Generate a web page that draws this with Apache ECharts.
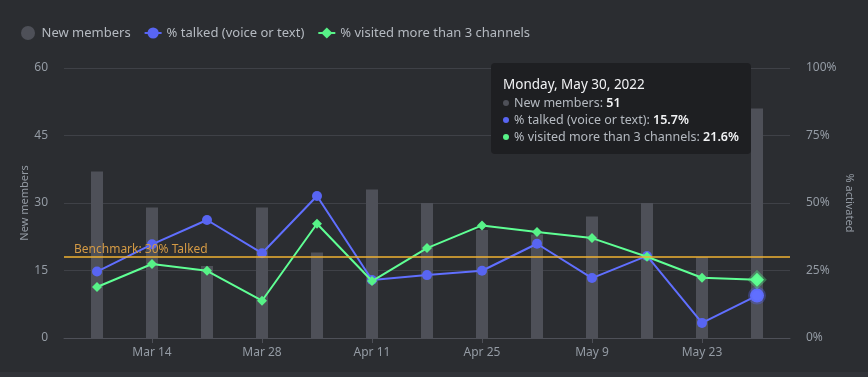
<!DOCTYPE html>
<html>
<head>
<meta charset="utf-8">
<script src="https://cdn.jsdelivr.net/npm/echarts@6/dist/echarts.min.js"></script>
<style>
  html, body { margin: 0; padding: 0; background: #313338; }
  #chart { width: 868px; height: 372px; background: #2b2d31; }
</style>
</head>
<body>
<div id="chart"></div>
<script>
// weekly data points (Mondays)
var weeks = ['2022-03-07','2022-03-14','2022-03-21','2022-03-28','2022-04-04','2022-04-11','2022-04-18',
             '2022-04-25','2022-05-02','2022-05-09','2022-05-16','2022-05-23','2022-05-30'];
var newMembers = [37, 29, 16, 29, 19, 33, 30, 24, 23, 27, 30, 18, 51];
var talked = [24.6, 34.7, 43.7, 31.4, 52.6, 21.5, 23.3, 24.9, 34.9, 22.2, 30.4, 5.6, 15.7];
var visited = [18.9, 27.4, 24.9, 13.8, 42.3, 21.1, 33.3, 41.7, 39.3, 37.0, 30.1, 22.3, 21.6];
var tickDates = ['2022-03-14','2022-03-28','2022-04-11','2022-04-25','2022-05-09','2022-05-23'];
var benchmark = 30;

var months = ['Jan','Feb','Mar','Apr','May','Jun','Jul','Aug','Sep','Oct','Nov','Dec'];
var monthsLong = ['January','February','March','April','May','June','July','August','September','October','November','December'];
var dayNames = ['Sunday','Monday','Tuesday','Wednesday','Thursday','Friday','Saturday'];

function toDate(s) { var p = s.split('-'); return new Date(Date.UTC(+p[0], +p[1] - 1, +p[2])); }
var t0 = toDate(weeks[0]).getTime();
function dayOf(s) { return Math.round((toDate(s).getTime() - t0) / 86400000); }
function dateOfDay(d) { return new Date(t0 + d * 86400000); }

var barData = [], talkData = [], visitData = [];
for (var i = 0; i < weeks.length; i++) {
  var d = dayOf(weeks[i]);
  barData.push([d, newMembers[i]]);
  talkData.push([d, talked[i]]);
  visitData.push([d, visited[i]]);
}
var tickDays = tickDates.map(dayOf);

var chart = echarts.init(document.getElementById('chart'));
var font = '"Noto Sans", sans-serif';
var cssFont = "'Noto Sans', sans-serif";
var blue = '#5865f2', green = '#57f287';

var option = {
  animation: false,
  backgroundColor: '#2b2d31',
  textStyle: { fontFamily: font },
  legend: {
    left: 16, top: 21,
    itemWidth: 17, itemHeight: 14, itemGap: 13,
    textStyle: { color: '#b5bac1', fontSize: 13, fontFamily: font },
    data: [
      { name: 'New members', icon: 'circle' },
      { name: '% talked (voice or text)' },
      { name: '% visited more than 3 channels' }
    ]
  },
  grid: { left: 64, right: 78, top: 68, bottom: 34 },
  tooltip: {
    trigger: 'axis',
    axisPointer: { type: 'none', snap: true },
    position: [491, 63],
    backgroundColor: '#1e1f22',
    borderWidth: 0,
    padding: [11, 12, 9, 12],
    transitionDuration: 0,
    extraCssText: 'box-shadow:none;border-radius:4px;',
    formatter: function (params) {
      var idx = params[0].dataIndex;
      var dt = toDate(weeks[idx]);
      var title = dayNames[dt.getUTCDay()] + ', ' + monthsLong[dt.getUTCMonth()] + ' ' + dt.getUTCDate() + ', ' + dt.getUTCFullYear();
      var rows = [
        ['#4e5058', 'New members', newMembers[idx]],
        [blue, '% talked (voice or text)', talked[idx].toFixed(1) + '%'],
        [green, '% visited more than 3 channels', visited[idx].toFixed(1) + '%']
      ];
      var html = '<div style="font-family:' + cssFont + ';font-size:13.5px;line-height:20px;color:#f2f3f5">' + title + '</div>';
      rows.forEach(function (r) {
        html += '<div style="font-family:' + cssFont + ';font-size:12.5px;line-height:17px;color:#b5bac1">' +
          '<span style="display:inline-block;width:6px;height:6px;border-radius:3px;background:' + r[0] + ';margin-right:5px;vertical-align:middle;position:relative;top:-1px"></span>' +
          r[1] + ': <b style="color:#f2f3f5;font-weight:600">' + r[2] + '</b></div>';
      });
      return html;
    }
  },
  xAxis: {
    type: 'value',
    min: -4.2,
    max: 88.2,
    axisLine: { show: true, lineStyle: { color: '#4e5058' } },
    axisTick: { show: true, length: 5, lineStyle: { color: '#4e5058' }, customValues: tickDays },
    axisLabel: {
      color: '#949ba4', fontSize: 12, margin: 9, fontFamily: font,
      customValues: tickDays,
      formatter: function (v) { var dt = dateOfDay(v); return months[dt.getUTCMonth()] + ' ' + dt.getUTCDate(); }
    },
    splitLine: { show: false }
  },
  yAxis: [
    {
      type: 'value', min: 0, max: 60, interval: 15,
      name: 'New members', nameLocation: 'middle', nameGap: 34, nameRotate: 90,
      nameMoveOverlap: false,
      nameTextStyle: { color: '#949ba4', fontSize: 11, fontFamily: font },
      axisLine: { show: false }, axisTick: { show: false },
      axisLabel: { color: '#949ba4', fontSize: 12, margin: 16, fontFamily: font },
      splitLine: { lineStyle: { color: '#3f4147' } }
    },
    {
      type: 'value', min: 0, max: 100, interval: 25,
      name: '% activated', nameLocation: 'middle', nameGap: 54, nameRotate: -90,
      nameMoveOverlap: false,
      nameTextStyle: { color: '#949ba4', fontSize: 11, fontFamily: font },
      axisLine: { show: false }, axisTick: { show: false },
      axisLabel: { color: '#949ba4', fontSize: 12, margin: 16, fontFamily: font, formatter: '{value}%' },
      splitLine: { show: false }
    }
  ],
  series: [
    {
      name: 'New members',
      type: 'bar',
      yAxisIndex: 0,
      barWidth: 12,
      itemStyle: { color: '#4e5058' },
      emphasis: { disabled: true },
      data: barData
    },
    {
      name: '% talked (voice or text)',
      type: 'line',
      yAxisIndex: 1,
      symbol: 'circle',
      symbolSize: 10,
      lineStyle: { color: blue, width: 2 },
      itemStyle: { color: blue },
      emphasis: { scale: 1.4, itemStyle: { borderWidth: 4, borderColor: 'rgba(88,101,242,0.35)' } },
      z: 3,
      data: talkData,
      markLine: {
        silent: true,
        symbol: 'none',
        lineStyle: { color: '#f0b232', type: 'solid', width: 1.5 },
        label: {
          position: 'insideStartTop',
          formatter: 'Benchmark: 30% Talked',
          color: '#d49a45', fontSize: 12, fontFamily: font,
          offset: [5, 4]
        },
        data: [{ yAxis: benchmark }]
      }
    },
    {
      name: '% visited more than 3 channels',
      type: 'line',
      yAxisIndex: 1,
      symbol: 'diamond',
      symbolSize: 10,
      lineStyle: { color: green, width: 2 },
      itemStyle: { color: green },
      emphasis: { scale: 1.4, itemStyle: { borderWidth: 4, borderColor: 'rgba(87,242,135,0.35)' } },
      z: 4,
      data: visitData
    }
  ]
};

chart.setOption(option);
chart.dispatchAction({ type: 'showTip', seriesIndex: 1, dataIndex: weeks.length - 1 });
</script>
</body>
</html>
